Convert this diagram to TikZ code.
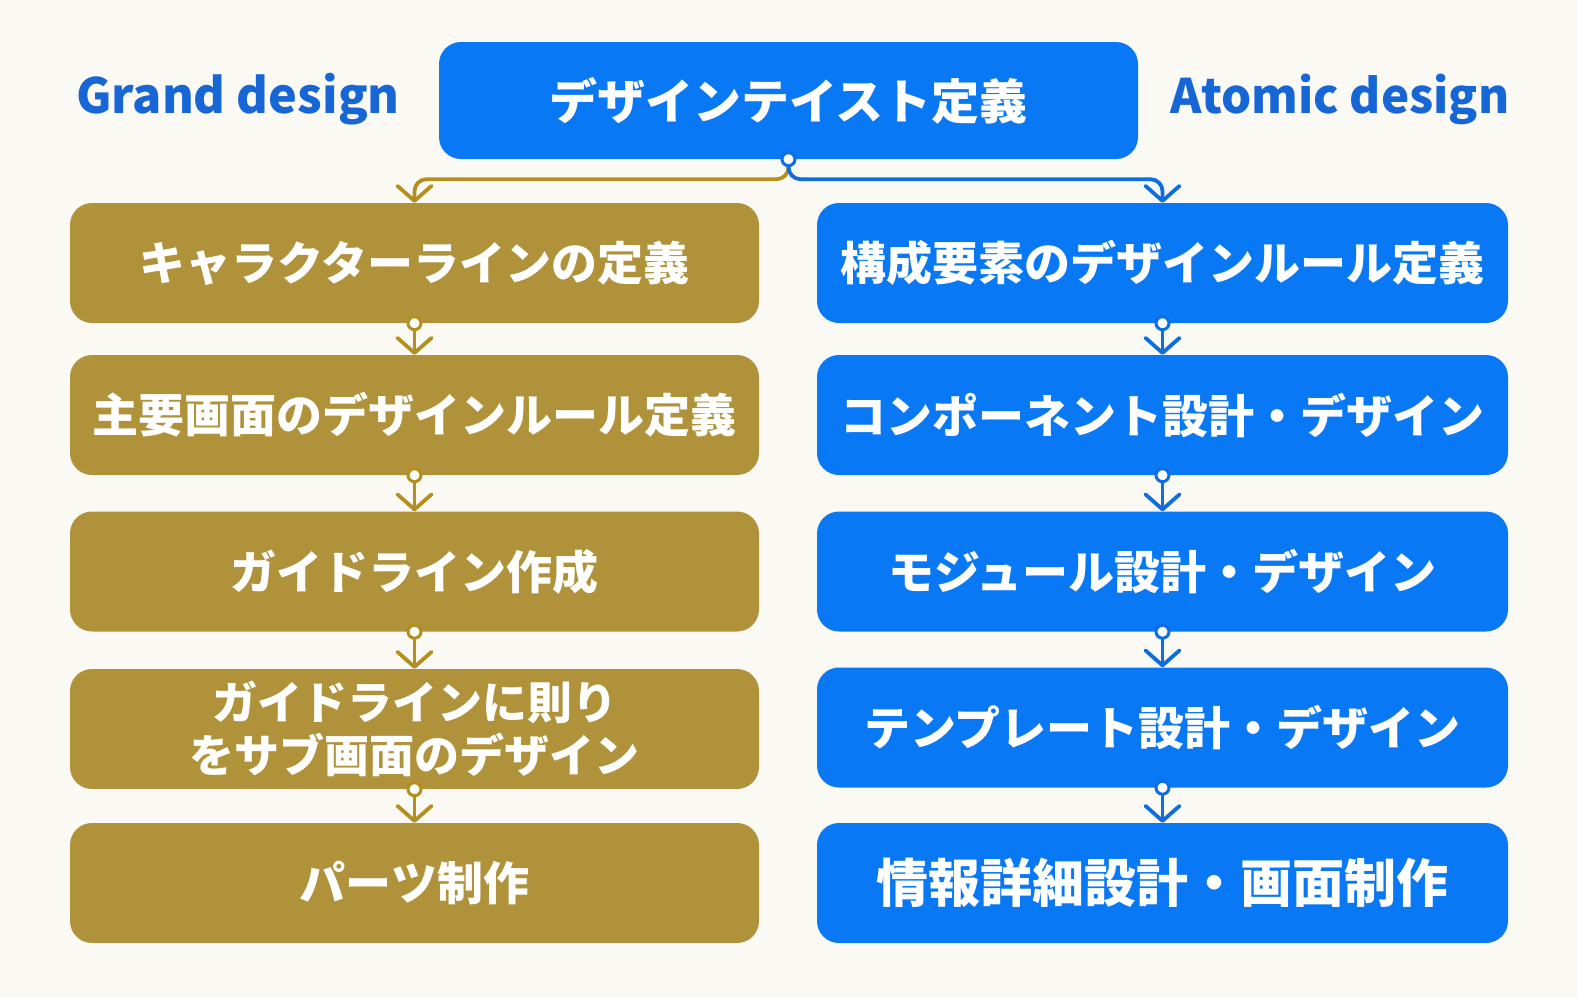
\documentclass[tikz,border=0pt]{standalone}
\usepackage{fontspec}
\setmainfont{Noto Sans CJK JP}
\usetikzlibrary{arrows.meta,positioning,calc}
\definecolor{bgc}{HTML}{FBF9F4}
\definecolor{boxblue}{HTML}{0978F4}
\definecolor{boxgold}{HTML}{B0923A}
\definecolor{lineblue}{HTML}{0E6EE0}
\definecolor{linegold}{HTML}{B38F1E}
\definecolor{labelblue}{HTML}{1666D6}
\tikzset{
  box/.style={rounded corners=22pt, minimum height=120pt, text=white,
    font=\fontsize{46}{56}\selectfont\bfseries, align=center, inner sep=0pt},
  goldbox/.style={box, fill=boxgold, minimum width=689pt},
  bluebox/.style={box, fill=boxblue, minimum width=691pt},
  conn/.style={line width=3.8pt, line cap=round, line join=round,
    -{Straight Barb[length=15pt,width=34pt,line width=3.8pt,round]}},
  dot/.style={circle, draw, fill=white, line width=3pt, minimum size=13pt, inner sep=0pt},
  sidelabel/.style={text=labelblue, font=\fontsize{48.5}{56}\selectfont\bfseries}
}
\begin{document}
\begin{tikzpicture}[x=1pt,y=-1pt]
\fill[bgc] (0,0) rectangle (1577,997);
\useasboundingbox (0,0) rectangle (1577,997);

\node[box, fill=boxblue, minimum width=699pt, minimum height=117pt,
  font=\fontsize{48}{56}\selectfont\bfseries] (top) at (788.5,100.5) {デザインテイスト定義};
\node[sidelabel] (gd) at (238,99) {Grand design};
\node[sidelabel, font=\fontsize{47.5}{56}\selectfont\bfseries] (ad) at (1340,99) {Atomic design};

\node[goldbox] (L1) at (414.5,263) {キャラクターラインの定義};
\node[goldbox] (L2) at (414.5,415) {主要画面のデザインルール定義};
\node[goldbox] (L3) at (414.5,571.5) {ガイドライン作成};
\node[goldbox, font=\fontsize{45}{53}\selectfont\bfseries] (L4) at (414.5,729) {ガイドラインに則り\\をサブ画面のデザイン};
\node[goldbox] (L5) at (414.5,883) {パーツ制作};

\node[bluebox] (R1) at (1162.5,263) {構成要素のデザインルール定義};
\node[bluebox] (R2) at (1162.5,415) {コンポーネント設計・デザイン};
\node[bluebox] (R3) at (1162.5,571.5) {モジュール設計・デザイン};
\node[bluebox] (R4) at (1162.5,727.5) {テンプレート設計・デザイン};
\node[bluebox, font=\fontsize{52}{60}\selectfont\bfseries] (R5) at (1162.5,883) {情報詳細設計・画面制作};

% top split
\draw[conn, linegold, rounded corners=12pt] (top.south) -- ++(0,20) -| (L1.north);
\draw[conn, lineblue, rounded corners=12pt] (top.south) -- ++(0,20) -| (R1.north);
\node[dot, draw=lineblue] at (top.south) {};

% left chain
\foreach \a/\b in {L1/L2,L2/L3,L3/L4,L4/L5}{
  \draw[conn, linegold] (\a.south) -- (\b.north);
  \node[dot, draw=linegold] at (\a.south) {};
}
% right chain
\foreach \a/\b in {R1/R2,R2/R3,R3/R4,R4/R5}{
  \draw[conn, lineblue] (\a.south) -- (\b.north);
  \node[dot, draw=lineblue] at (\a.south) {};
}
\end{tikzpicture}
\end{document}
